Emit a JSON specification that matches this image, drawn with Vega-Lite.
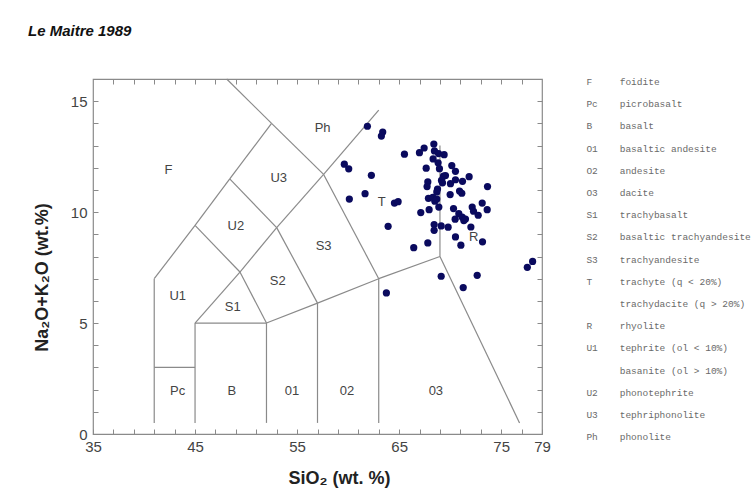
{
  "$schema": "https://vega.github.io/schema/vega-lite/v6.json",
  "width": 449,
  "height": 355,
  "autosize": {"type": "none"},
  "padding": {"left": 93, "top": 79, "right": 214, "bottom": 63},
  "background": "white",
  "title": {
    "text": "Le Maitre 1989",
    "anchor": "start",
    "frame": "group",
    "dx": -65,
    "offset": 21,
    "baseline": "alphabetic",
    "font": "Liberation Sans",
    "fontSize": 15,
    "fontStyle": "italic",
    "fontWeight": "bold",
    "color": "#111111"
  },
  "config": {
    "view": {"stroke": "#8a8a8a", "strokeWidth": 1.2},
    "axis": {"grid": false, "domain": false, "tickColor": "#8a8a8a", "tickWidth": 1, "labelFont": "Liberation Sans", "labelFontSize": 15, "labelColor": "#444444", "titleFont": "Liberation Sans", "titleColor": "#222222"}
  },
  "datasets": {
    "segments": [
      {"x1": 41, "y1": 0.5, "x2": 41, "y2": 7},
      {"x1": 41, "y1": 7, "x2": 45, "y2": 9.4},
      {"x1": 45, "y1": 9.4, "x2": 48.4, "y2": 11.5},
      {"x1": 48.4, "y1": 11.5, "x2": 52.5, "y2": 14},
      {"x1": 52.5, "y1": 14, "x2": 48.1, "y2": 16},
      {"x1": 52.5, "y1": 14, "x2": 57.6, "y2": 11.7},
      {"x1": 57.6, "y1": 11.7, "x2": 63, "y2": 14.6},
      {"x1": 45, "y1": 9.4, "x2": 49.4, "y2": 7.3},
      {"x1": 48.4, "y1": 11.5, "x2": 53, "y2": 9.3},
      {"x1": 45, "y1": 5, "x2": 49.4, "y2": 7.3},
      {"x1": 49.4, "y1": 7.3, "x2": 53, "y2": 9.3},
      {"x1": 53, "y1": 9.3, "x2": 57.6, "y2": 11.7},
      {"x1": 49.4, "y1": 7.3, "x2": 52, "y2": 5},
      {"x1": 53, "y1": 9.3, "x2": 57, "y2": 5.9},
      {"x1": 57.6, "y1": 11.7, "x2": 63, "y2": 7},
      {"x1": 45, "y1": 5, "x2": 52, "y2": 5},
      {"x1": 52, "y1": 5, "x2": 57, "y2": 5.9},
      {"x1": 57, "y1": 5.9, "x2": 63, "y2": 7},
      {"x1": 63, "y1": 7, "x2": 69, "y2": 8},
      {"x1": 45, "y1": 0.5, "x2": 45, "y2": 5},
      {"x1": 52, "y1": 0.5, "x2": 52, "y2": 5},
      {"x1": 57, "y1": 0.5, "x2": 57, "y2": 5.9},
      {"x1": 63, "y1": 0.5, "x2": 63, "y2": 7},
      {"x1": 69, "y1": 8, "x2": 69, "y2": 13},
      {"x1": 41, "y1": 3, "x2": 45, "y2": 3},
      {"x1": 69, "y1": 8, "x2": 76.8, "y2": 0.5}
    ],
    "fields": [
      {"label": "F", "x": 42.4, "y": 11.9},
      {"label": "Ph", "x": 57.5, "y": 13.8},
      {"label": "U3", "x": 53.2, "y": 11.55},
      {"label": "U2", "x": 49.0, "y": 9.36},
      {"label": "S3", "x": 57.6, "y": 8.47},
      {"label": "T", "x": 63.3, "y": 10.44},
      {"label": "R", "x": 72.3, "y": 8.88},
      {"label": "U1", "x": 43.3, "y": 6.2},
      {"label": "S1", "x": 48.7, "y": 5.72},
      {"label": "S2", "x": 53.1, "y": 6.9},
      {"label": "Pc", "x": 43.3, "y": 1.92},
      {"label": "B", "x": 48.6, "y": 1.92},
      {"label": "01", "x": 54.5, "y": 1.92},
      {"label": "02", "x": 59.9, "y": 1.92},
      {"label": "03", "x": 68.6, "y": 1.92}
    ],
    "samples": [
      {"sio2": 61.89, "alk": 13.87}, {"sio2": 63.39, "alk": 13.61}, {"sio2": 63.26, "alk": 13.43},
      {"sio2": 59.63, "alk": 12.16}, {"sio2": 60.06, "alk": 11.95}, {"sio2": 62.28, "alk": 11.66},
      {"sio2": 60.12, "alk": 10.59}, {"sio2": 61.66, "alk": 10.83}, {"sio2": 64.54, "alk": 10.41},
      {"sio2": 64.90, "alk": 10.47}, {"sio2": 63.92, "alk": 9.36}, {"sio2": 65.52, "alk": 12.61},
      {"sio2": 66.99, "alk": 12.68}, {"sio2": 67.45, "alk": 12.89}, {"sio2": 68.40, "alk": 13.07},
      {"sio2": 68.46, "alk": 12.76}, {"sio2": 68.86, "alk": 12.64}, {"sio2": 69.41, "alk": 12.59},
      {"sio2": 68.33, "alk": 12.40}, {"sio2": 68.82, "alk": 12.22}, {"sio2": 67.65, "alk": 11.98},
      {"sio2": 68.95, "alk": 11.96}, {"sio2": 70.16, "alk": 12.10}, {"sio2": 70.52, "alk": 11.84},
      {"sio2": 69.35, "alk": 11.62}, {"sio2": 69.54, "alk": 11.65}, {"sio2": 69.15, "alk": 11.43},
      {"sio2": 70.52, "alk": 11.46}, {"sio2": 71.21, "alk": 11.39}, {"sio2": 71.86, "alk": 11.60},
      {"sio2": 67.81, "alk": 11.36}, {"sio2": 67.74, "alk": 11.15}, {"sio2": 68.76, "alk": 11.04},
      {"sio2": 70.03, "alk": 11.28}, {"sio2": 70.92, "alk": 10.95}, {"sio2": 71.14, "alk": 10.85},
      {"sio2": 73.66, "alk": 11.15}, {"sio2": 67.87, "alk": 10.62}, {"sio2": 68.30, "alk": 10.67},
      {"sio2": 68.69, "alk": 10.59}, {"sio2": 68.50, "alk": 10.49}, {"sio2": 68.89, "alk": 10.23},
      {"sio2": 70.00, "alk": 10.79}, {"sio2": 67.94, "alk": 10.11}, {"sio2": 67.12, "alk": 9.98},
      {"sio2": 70.33, "alk": 10.16}, {"sio2": 70.85, "alk": 9.93}, {"sio2": 70.49, "alk": 9.68},
      {"sio2": 71.18, "alk": 9.78}, {"sio2": 71.34, "alk": 9.62}, {"sio2": 71.50, "alk": 9.69},
      {"sio2": 72.16, "alk": 10.23}, {"sio2": 72.29, "alk": 10.04}, {"sio2": 72.75, "alk": 9.86},
      {"sio2": 73.14, "alk": 10.41}, {"sio2": 73.63, "alk": 10.11}, {"sio2": 68.43, "alk": 9.44},
      {"sio2": 68.43, "alk": 9.18}, {"sio2": 69.12, "alk": 9.38}, {"sio2": 69.80, "alk": 9.32},
      {"sio2": 72.03, "alk": 9.33}, {"sio2": 70.52, "alk": 8.88}, {"sio2": 71.05, "alk": 8.51},
      {"sio2": 73.17, "alk": 8.66}, {"sio2": 67.81, "alk": 8.61}, {"sio2": 66.43, "alk": 8.40},
      {"sio2": 78.08, "alk": 7.78}, {"sio2": 77.56, "alk": 7.51}, {"sio2": 69.12, "alk": 7.11},
      {"sio2": 72.65, "alk": 7.15}, {"sio2": 71.28, "alk": 6.60}, {"sio2": 63.75, "alk": 6.36},
      {"sio2": 69.25, "alk": 11.32}, {"sio2": 68.69, "alk": 10.91}
    ],
    "legend": [
      {"row": 0, "code": "F", "name": "foidite"},
      {"row": 1, "code": "Pc", "name": "picrobasalt"},
      {"row": 2, "code": "B", "name": "basalt"},
      {"row": 3, "code": "O1", "name": "basaltic andesite"},
      {"row": 4, "code": "O2", "name": "andesite"},
      {"row": 5, "code": "O3", "name": "dacite"},
      {"row": 6, "code": "S1", "name": "trachybasalt"},
      {"row": 7, "code": "S2", "name": "basaltic trachyandesite"},
      {"row": 8, "code": "S3", "name": "trachyandesite"},
      {"row": 9, "code": "T", "name": "trachyte (q < 20%)"},
      {"row": 10, "code": "", "name": "trachydacite (q > 20%)"},
      {"row": 11, "code": "R", "name": "rhyolite"},
      {"row": 12, "code": "U1", "name": "tephrite (ol < 10%)"},
      {"row": 13, "code": "", "name": "basanite (ol > 10%)"},
      {"row": 14, "code": "U2", "name": "phonotephrite"},
      {"row": 15, "code": "U3", "name": "tephriphonolite"},
      {"row": 16, "code": "Ph", "name": "phonolite"}
    ]
  },
  "layer": [
    {
      "layer": [
        {
          "data": {"name": "segments"},
          "mark": {"type": "rule", "color": "#8a8a8a", "strokeWidth": 1.2},
          "encoding": {
            "x": {"field": "x1", "type": "quantitative", "scale": {"domain": [35, 79], "nice": false, "zero": false},
              "axis": {"orient": "bottom", "values": [35,37,39,41,43,45,47,49,51,53,55,57,59,61,63,65,67,69,71,73,75,77,79], "labelExpr": "indexof([35,45,55,65,75,79], datum.value) >= 0 ? datum.label : ''", "tickSize": -5, "labelPadding": 10, "labelFlush": false, "labelOverlap": false,
                "title": "SiO₂ (wt. %)", "titleFontSize": 18, "titleFontWeight": "bold", "titleX": 246, "titleY": 44, "titleBaseline": "middle"}},
            "y": {"field": "y1", "type": "quantitative", "scale": {"domain": [0, 16], "nice": false, "zero": false},
              "axis": {"orient": "left", "values": [0,1,2,3,4,5,6,7,8,9,10,11,12,13,14,15,16], "labelExpr": "indexof([0,5,10,15], datum.value) >= 0 ? datum.label : ''", "tickSize": -5, "labelPadding": 11, "labelFlush": false, "labelOverlap": false,
                "title": "Na₂O+K₂O (wt.%)", "titleFontSize": 18, "titleFontWeight": "bold", "titleX": -51, "titleY": 198, "titleBaseline": "middle"}},
            "x2": {"field": "x2"},
            "y2": {"field": "y2"}
          }
        },
        {
          "data": {"name": "fields"},
          "mark": {"type": "text", "font": "Liberation Sans", "fontSize": 13, "color": "#444444", "align": "center", "baseline": "middle"},
          "encoding": {
            "x": {"field": "x", "type": "quantitative", "axis": null},
            "y": {"field": "y", "type": "quantitative", "axis": null},
            "text": {"field": "label"}
          }
        },
        {
          "data": {"name": "samples"},
          "mark": {"type": "point", "filled": true, "color": "#0a0a5e", "size": 52, "opacity": 1},
          "encoding": {
            "x": {"field": "sio2", "type": "quantitative",
              "axis": {"orient": "top", "values": [37,39,41,43,45,47,49,51,53,55,57,59,61,63,65,67,69,71,73,75,77], "labels": false, "tickSize": -5, "title": null}},
            "y": {"field": "alk", "type": "quantitative",
              "axis": {"orient": "right", "values": [1,2,3,4,5,6,7,8,9,10,11,12,13,14,15], "labels": false, "tickSize": -5, "title": null}}
          }
        }
      ],
      "resolve": {"axis": {"x": "independent", "y": "independent"}}
    },
    {
      "data": {"name": "legend"},
      "layer": [
        {
          "mark": {"type": "text", "font": "Liberation Mono", "fontSize": 9.5, "color": "#6a6a6a", "align": "left", "baseline": "middle"},
          "encoding": {
            "x": {"datum": 0, "type": "quantitative", "scale": {"domain": [0, 1], "range": [493.4, 526.7]}, "axis": null},
            "y": {"field": "row", "type": "quantitative", "scale": {"domain": [0, 16], "range": [3, 358.3]}, "axis": null},
            "text": {"field": "code"}
          }
        },
        {
          "mark": {"type": "text", "font": "Liberation Mono", "fontSize": 9.5, "color": "#6a6a6a", "align": "left", "baseline": "middle"},
          "encoding": {
            "x": {"datum": 1, "type": "quantitative", "axis": null},
            "y": {"field": "row", "type": "quantitative", "axis": null},
            "text": {"field": "name"}
          }
        }
      ]
    }
  ],
  "resolve": {"scale": {"x": "independent", "y": "independent"}}
}
